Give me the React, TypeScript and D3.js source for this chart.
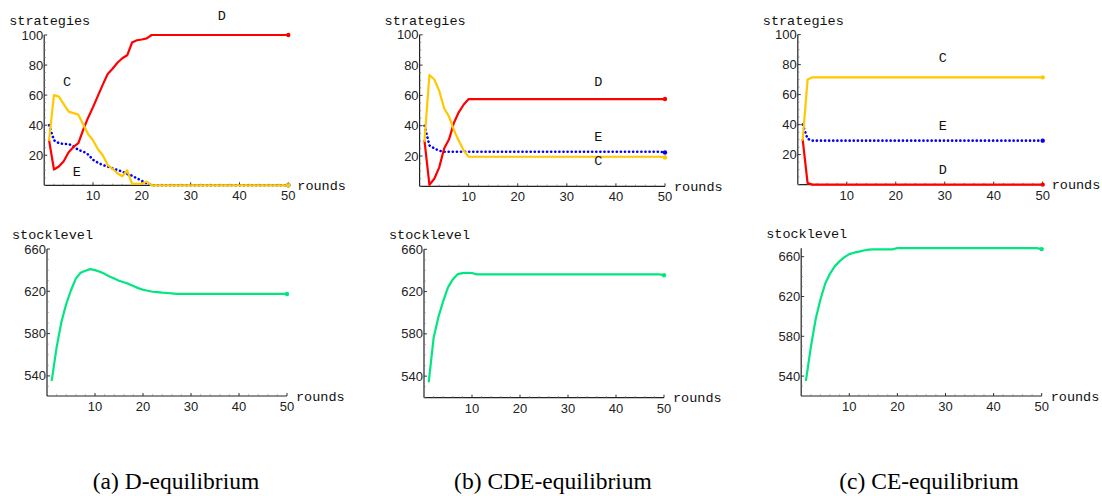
import React from 'react'
import * as d3 from 'd3'

// rounds 1..50 on the x axis
const rounds = d3.range(1, 51)
const xTicks = [10, 20, 30, 40, 50]
const strategyTicks = [20, 40, 60, 80, 100]
const stockTicks = [540, 580, 620, 660]

// (a) D-equilibrium
const aCoop = [30, 60, 59, 54, 49, 48, 47, 40.5, 34, 30, 24, 20, 13.5, 11, 8, 6, 10, 1, 1, 1, 2.5, 0,
  0, 0, 0, 0, 0, 0, 0, 0, 0, 0, 0, 0, 0, 0, 0, 0, 0, 0, 0, 0, 0, 0, 0, 0, 0, 0, 0, 0]
const aDefect = [30, 10.5, 12.5, 16, 22, 25.5, 28, 37, 45, 52, 59.5, 67, 74, 77.5, 81.5, 84.5, 86.5, 95, 96.5, 97, 97.8, 100,
  100, 100, 100, 100, 100, 100, 100, 100, 100, 100, 100, 100, 100, 100, 100, 100, 100, 100, 100, 100, 100, 100, 100, 100, 100, 100, 100, 100]
const aEnforce = [40, 30, 28, 27.5, 27.5, 26, 23.5, 22.5, 20.5, 17, 15, 13.5, 12.5, 11.3, 10.2, 9.1, 7.5, 6.4, 4.6, 3, 1.3, 0,
  0, 0, 0, 0, 0, 0, 0, 0, 0, 0, 0, 0, 0, 0, 0, 0, 0, 0, 0, 0, 0, 0, 0, 0, 0, 0, 0, 0]
const aStock = [536, 567, 591, 608, 621, 632, 637.5, 639.5, 641, 640, 638.5, 636.5, 634, 632, 630, 628.5, 627, 625, 623, 621.5,
  620.5, 619.6, 619.2, 618.7, 618.4, 618.1, 617.5, 617.5, 617.5, 617.5, 617.5, 617.5, 617.5, 617.5, 617.5, 617.5, 617.5, 617.5, 617.5, 617.5,
  617.5, 617.5, 617.5, 617.5, 617.5, 617.5, 617.5, 617.5, 617.5, 617.5]

// (b) CDE-equilibrium
const bCoop = [30, 73.5, 70.5, 63, 51.5, 46, 37, 30, 23.5, 19.5,
  19.5, 19.5, 19.5, 19.5, 19.5, 19.5, 19.5, 19.5, 19.5, 19.5, 19.5, 19.5, 19.5, 19.5, 19.5, 19.5, 19.5, 19.5, 19.5, 19.5,
  19.5, 19.5, 19.5, 19.5, 19.5, 19.5, 19.5, 19.5, 19.5, 19.5, 19.5, 19.5, 19.5, 19.5, 19.5, 19.5, 19.5, 19.5, 19.5, 19]
const bDefect = [30, 1, 5, 12.5, 25, 31, 42, 49, 54, 57.6,
  57.6, 57.6, 57.6, 57.6, 57.6, 57.6, 57.6, 57.6, 57.6, 57.6, 57.6, 57.6, 57.6, 57.6, 57.6, 57.6, 57.6, 57.6, 57.6, 57.6,
  57.6, 57.6, 57.6, 57.6, 57.6, 57.6, 57.6, 57.6, 57.6, 57.6, 57.6, 57.6, 57.6, 57.6, 57.6, 57.6, 57.6, 57.6, 57.6, 57.6]
const bEnforce = [40, 27, 25, 23.5, 22.8,
  22.8, 22.8, 22.8, 22.8, 22.8, 22.8, 22.8, 22.8, 22.8, 22.8, 22.8, 22.8, 22.8, 22.8, 22.8, 22.8, 22.8, 22.8, 22.8, 22.8,
  22.8, 22.8, 22.8, 22.8, 22.8, 22.8, 22.8, 22.8, 22.8, 22.8, 22.8, 22.8, 22.8, 22.8, 22.8, 22.8, 22.8, 22.8, 22.8, 22.8,
  22.8, 22.8, 22.8, 22.8, 22.3]
const bStock = [535, 576, 596, 611, 624, 631.5, 636.5, 637.5, 637.8, 637.6, 636.3, 636.3, 636.3, 636.3, 636.3, 636.3, 636.3, 636.3, 636.3, 636.3,
  636.3, 636.3, 636.3, 636.3, 636.3, 636.3, 636.3, 636.3, 636.3, 636.3, 636.3, 636.3, 636.3, 636.3, 636.3, 636.3, 636.3, 636.3, 636.3, 636.3,
  636.3, 636.3, 636.3, 636.3, 636.3, 636.3, 636.3, 636.3, 636.3, 635.5]

// (c) CE-equilibrium
const cCoop = [30, 70, 71.5, 71.5, 71.5, 71.5, 71.5, 71.5, 71.5, 71.5,
  71.5, 71.5, 71.5, 71.5, 71.5, 71.5, 71.5, 71.5, 71.5, 71.5, 71.5, 71.5, 71.5, 71.5, 71.5, 71.5, 71.5, 71.5, 71.5, 71.5,
  71.5, 71.5, 71.5, 71.5, 71.5, 71.5, 71.5, 71.5, 71.5, 71.5, 71.5, 71.5, 71.5, 71.5, 71.5, 71.5, 71.5, 71.5, 71.5, 71.5]
const cDefect = [30, 1, 0, 0, 0, 0, 0, 0, 0, 0, 0, 0, 0, 0, 0, 0, 0, 0, 0, 0, 0, 0, 0, 0, 0,
  0, 0, 0, 0, 0, 0, 0, 0, 0, 0, 0, 0, 0, 0, 0, 0, 0, 0, 0, 0, 0, 0, 0, 0, 0]
const cEnforce = [40, 30.5, 29.3, 29.3, 29.3, 29.3, 29.3, 29.3, 29.3, 29.3,
  29.3, 29.3, 29.3, 29.3, 29.3, 29.3, 29.3, 29.3, 29.3, 29.3, 29.3, 29.3, 29.3, 29.3, 29.3, 29.3, 29.3, 29.3, 29.3, 29.3,
  29.3, 29.3, 29.3, 29.3, 29.3, 29.3, 29.3, 29.3, 29.3, 29.3, 29.3, 29.3, 29.3, 29.3, 29.3, 29.3, 29.3, 29.3, 29.3, 29.3]
const cStock = [536, 569, 597, 617, 633, 643, 650.5, 655.5, 659.5, 662.5, 664, 665, 666.2, 667, 667.4, 667.4, 667.4, 667.4, 667.4, 668.6,
  668.6, 668.6, 668.6, 668.6, 668.6, 668.6, 668.6, 668.6, 668.6, 668.6, 668.6, 668.6, 668.6, 668.6, 668.6, 668.6, 668.6, 668.6, 668.6, 668.6,
  668.6, 668.6, 668.6, 668.6, 668.6, 668.6, 668.6, 668.6, 668.6, 667.6]

const captions = ['(a) D-equilibrium', '(b) CDE-equilibrium', '(c) CE-equilibrium']

const RED = '#ff0000'
const YELLOW = '#ffc800'
const BLUE = '#0000ff'
const GREEN = '#00e680'

const tickFont = '"Liberation Sans", Arial, sans-serif'
const monoFont = '"Liberation Mono", "Courier New", monospace'

type Series = { values: number[]; color: string; dotted?: boolean }
type Label = { text: string; round: number; value: number }

interface PanelProps {
  xRange: [number, number]
  yDomain: [number, number]
  yRange: [number, number]
  yTicks: number[]
  yMinorStep: number
  yLabel: string
  series: Series[]
  labels?: Label[]
}

function Panel({ xRange, yDomain, yRange, yTicks, yMinorStep, yLabel, series, labels = [] }: PanelProps) {
  const x = d3.scaleLinear().domain([0, 50]).range(xRange)
  const y = d3.scaleLinear().domain(yDomain).range(yRange)
  const line = d3.line<number>()
    .x((_, i) => x(rounds[i]))
    .y(d => y(d))

  const x0 = x(0)
  const yBase = y(yDomain[0])
  const yTop = y(yDomain[1])
  const xMinor = d3.range(2, 51, 2).filter(v => v % 10 !== 0)
  const yMinor = d3.range(Math.ceil(yDomain[0] / yMinorStep) * yMinorStep, yDomain[1], yMinorStep)
    .filter(v => !yTicks.includes(v))

  return (
    <g>
      {/* axes */}
      <line x1={x0} y1={yBase} x2={x(50)} y2={yBase} stroke="#222" strokeWidth={1.2} />
      <line x1={x0} y1={yBase} x2={x0} y2={yTop} stroke="#222" strokeWidth={1.2} />

      {xTicks.map(t => (
        <g key={'xt' + t}>
          <line x1={x(t)} x2={x(t)} y1={yBase} y2={yBase - 3} stroke="#333" strokeWidth={1} />
          <text x={x(t)} y={yBase + 15} textAnchor="middle" fontFamily={tickFont} fontSize={13} fill="#222">{t}</text>
        </g>
      ))}
      {xMinor.map(t => (
        <line key={'xm' + t} x1={x(t)} x2={x(t)} y1={yBase} y2={yBase - 1.6} stroke="#777" strokeWidth={0.8} />
      ))}
      {yTicks.map(t => (
        <g key={'yt' + t}>
          <line x1={x0} x2={x0 + 3} y1={y(t)} y2={y(t)} stroke="#333" strokeWidth={1} />
          <text x={x0 - 1} y={y(t)} dy="0.35em" textAnchor="end" fontFamily={tickFont} fontSize={13} fill="#222">{t}</text>
        </g>
      ))}
      {yMinor.map(t => (
        <line key={'ym' + t} x1={x0} x2={x0 + 1.6} y1={y(t)} y2={y(t)} stroke="#777" strokeWidth={0.8} />
      ))}

      <text x={x0 - 35} y={yTop - 10} fontFamily={monoFont} fontSize={13.5} fill="#111">{yLabel}</text>
      <text x={x(50) + 9} y={yBase + 4.5} fontFamily={monoFont} fontSize={13.5} fill="#111">rounds</text>

      {series.map((s, i) => (
        <g key={'s' + i}>
          <path
            d={line(s.values) ?? ''}
            fill="none"
            stroke={s.color}
            strokeWidth={s.dotted ? 2.6 : 2.2}
            strokeLinejoin="round"
            strokeLinecap="round"
            strokeDasharray={s.dotted ? '0.1 4' : undefined}
          />
          <circle cx={x(50)} cy={y(s.values[s.values.length - 1])} r={2.2} fill={s.color} />
        </g>
      ))}

      {labels.map(l => (
        <text key={l.text} x={x(l.round)} y={y(l.value)} dy="0.35em" textAnchor="middle"
          fontFamily={monoFont} fontSize={13.5} fill="#111">{l.text}</text>
      ))}
    </g>
  )
}

const strategyPanels = [
  {
    xRange: [44.2, 288.3] as [number, number], yRange: [185.3, 35] as [number, number],
    coop: aCoop, defect: aDefect, enforce: aEnforce,
    labels: [
      { text: 'D', round: 36.4, value: 113.3 },
      { text: 'C', round: 4.7, value: 69.3 },
      { text: 'E', round: 6.7, value: 9 },
    ],
  },
  {
    xRange: [419.6, 665] as [number, number], yRange: [186.3, 34.8] as [number, number],
    coop: bCoop, defect: bDefect, enforce: bEnforce,
    labels: [
      { text: 'D', round: 36.4, value: 69 },
      { text: 'E', round: 36.4, value: 32.7 },
      { text: 'C', round: 36.4, value: 17.4 },
    ],
  },
  {
    xRange: [797.8, 1042.7] as [number, number], yRange: [184.6, 34.6] as [number, number],
    coop: cCoop, defect: cDefect, enforce: cEnforce,
    labels: [
      { text: 'C', round: 29.6, value: 84.9 },
      { text: 'E', round: 29.6, value: 39.7 },
      { text: 'D', round: 29.6, value: 10.4 },
    ],
  },
]

const stockPanels = [
  { xRange: [47, 287] as [number, number], yDomain: [521, 660] as [number, number], yRange: [396, 249] as [number, number], values: aStock },
  { xRange: [424, 664] as [number, number], yDomain: [519.6, 660] as [number, number], yRange: [397.7, 249.3] as [number, number], values: bStock },
  { xRange: [801.2, 1041.7] as [number, number], yDomain: [520, 668.4] as [number, number], yRange: [396, 248.3] as [number, number], values: cStock },
]

const captionX = [176, 553, 929]

export default function App() {
  return (
    <svg width={1102} height={496} style={{ position: 'absolute', left: 0, top: 0, background: '#fff' }}>
      {strategyPanels.map((p, i) => (
        <Panel
          key={'sp' + i}
          xRange={p.xRange}
          yDomain={[0, 100]}
          yRange={p.yRange}
          yTicks={strategyTicks}
          yMinorStep={5}
          yLabel="strategies"
          series={[
            { values: p.enforce, color: BLUE, dotted: true },
            { values: p.defect, color: RED },
            { values: p.coop, color: YELLOW },
          ]}
          labels={p.labels}
        />
      ))}
      {stockPanels.map((p, i) => (
        <Panel
          key={'st' + i}
          xRange={p.xRange}
          yDomain={p.yDomain}
          yRange={p.yRange}
          yTicks={stockTicks}
          yMinorStep={10}
          yLabel="stocklevel"
          series={[{ values: p.values, color: GREEN }]}
        />
      ))}
      {captions.map((c, i) => (
        <text key={c} x={captionX[i]} y={488.5} textAnchor="middle"
          fontFamily='"Liberation Serif", "Times New Roman", serif' fontSize={23.5} fill="#000">{c}</text>
      ))}
    </svg>
  )
}
